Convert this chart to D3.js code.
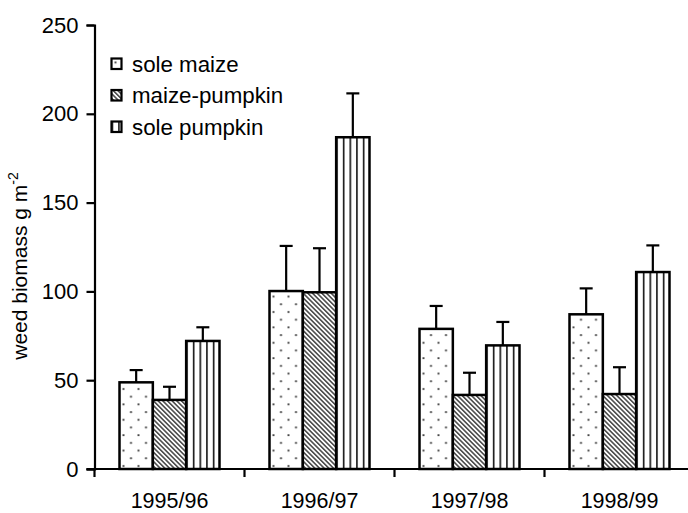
<!DOCTYPE html>
<html>
<head>
<meta charset="utf-8">
<script src="https://cdn.jsdelivr.net/npm/d3@7"></script>
<style>
  body { margin: 0; background: #fff; }
  svg { display: block; font-family: "Liberation Sans", Arial, sans-serif; }
</style>
</head>
<body>
<div id="chart"></div>
<script>
// seasons and series
const seasons = ["1995/96", "1996/97", "1997/98", "1998/99"];
const series = ["sole maize", "maize-pumpkin", "sole pumpkin"];
const soleMaize = [48.8, 100.2, 78.9, 87.1];
const maizePumpkin = [38.9, 99.5, 41.7, 42.2];
const solePumpkin = [72.1, 186.8, 69.6, 110.9];
const soleMaizeErr = [6.9, 25.4, 12.9, 14.6];
const maizePumpkinErr = [7.4, 24.8, 12.5, 15.1];
const solePumpkinErr = [7.7, 24.7, 13.2, 15.0];
const yTicks = [0, 50, 100, 150, 200, 250];

const values = [soleMaize, maizePumpkin, solePumpkin];
const errors = [soleMaizeErr, maizePumpkinErr, solePumpkinErr];
const patternIds = ["dots", "diag", "vert"];

const width = 688, height = 513;
const margin = { top: 25, left: 94.5, bottom: 44 };

const svg = d3.select("#chart").append("svg")
  .attr("width", width)
  .attr("height", height);

// patterns
const defs = svg.append("defs");
const pDots = defs.append("pattern").attr("id", "dots")
  .attr("patternUnits", "userSpaceOnUse").attr("width", 15).attr("height", 15.4);
pDots.append("rect").attr("width", 15).attr("height", 15.4).attr("fill", "#fff");
pDots.append("circle").attr("cx", 4).attr("cy", 4).attr("r", 1).attr("fill", "#333");
pDots.append("circle").attr("cx", 11.5).attr("cy", 11.7).attr("r", 1).attr("fill", "#333");

const pDiag = defs.append("pattern").attr("id", "diag")
  .attr("patternUnits", "userSpaceOnUse").attr("width", 3.3).attr("height", 3.3)
  .attr("patternTransform", "rotate(-45)");
pDiag.append("rect").attr("width", 3.3).attr("height", 3.3).attr("fill", "#fff");
pDiag.append("line").attr("x1", 0.8).attr("x2", 0.8).attr("y1", 0).attr("y2", 3.3)
  .attr("stroke", "#222").attr("stroke-width", 1.3);

const pVert = defs.append("pattern").attr("id", "vert")
  .attr("patternUnits", "userSpaceOnUse").attr("width", 6.66).attr("height", 10);
pVert.append("rect").attr("width", 6.66).attr("height", 10).attr("fill", "#fff");
pVert.append("line").attr("x1", 0).attr("x2", 0).attr("y1", 0).attr("y2", 10)
  .attr("stroke", "#111").attr("stroke-width", 3.2);

// scales
const x = d3.scaleBand()
  .domain(seasons)
  .range([margin.left, margin.left + 600])
  .paddingInner(1 / 3)
  .paddingOuter(1 / 6);

const xs = d3.scaleBand()
  .domain(series)
  .range([0, x.bandwidth()]);

const y = d3.scaleLinear()
  .domain([0, 250])
  .range([height - margin.bottom, margin.top]);

// bars
const groups = svg.append("g").selectAll("g")
  .data(seasons)
  .join("g")
  .attr("transform", d => `translate(${x(d)},0)`);

series.forEach((s, si) => {
  groups.append("g")
    .attr("transform", `translate(${xs(s)},0)`)
    .each(function (season, i) {
      const g = d3.select(this);
      const v = values[si][i];
      const e = errors[si][i];
      const cx = xs.bandwidth() / 2;
      g.append("line")
        .attr("x1", cx).attr("x2", cx)
        .attr("y1", y(v)).attr("y2", y(v + e))
        .attr("stroke", "#000").attr("stroke-width", 2.2);
      g.append("line")
        .attr("x1", cx - 6.5).attr("x2", cx + 6.5)
        .attr("y1", y(v + e)).attr("y2", y(v + e))
        .attr("stroke", "#000").attr("stroke-width", 2.2);
      g.append("rect")
        .attr("x", 0)
        .attr("y", y(v))
        .attr("width", xs.bandwidth())
        .attr("height", y(0) - y(v))
        .attr("fill", `url(#${patternIds[si]})`)
        .attr("stroke", "#000")
        .attr("stroke-width", 2.5);
    });
});

// y axis
const yAxis = svg.append("g")
  .attr("transform", `translate(${margin.left},0)`)
  .call(d3.axisLeft(y).tickValues(yTicks).tickSize(8).tickPadding(8));
yAxis.select(".domain").attr("stroke-width", 2.2);
yAxis.selectAll(".tick line").attr("stroke-width", 2.2);
yAxis.selectAll(".tick text")
  .attr("font-size", 22)
  .attr("font-family", "Liberation Sans, Arial, sans-serif")
  .attr("fill", "#000");

// x axis: baseline with ticks at group boundaries
const xAxis = svg.append("g");
xAxis.append("line")
  .attr("x1", margin.left - 8).attr("x2", width)
  .attr("y1", y(0)).attr("y2", y(0))
  .attr("stroke", "#000").attr("stroke-width", 2.2);
xAxis.selectAll(".xtick")
  .data(seasons)
  .join("line")
  .attr("class", "xtick")
  .attr("x1", d => x(d) - x.step() * x.paddingInner() / 2)
  .attr("x2", d => x(d) - x.step() * x.paddingInner() / 2)
  .attr("y1", y(0)).attr("y2", y(0) + 8)
  .attr("stroke", "#000").attr("stroke-width", 2.2);
xAxis.selectAll(".xlabel")
  .data(seasons)
  .join("text")
  .attr("class", "xlabel")
  .attr("x", d => x(d) + x.bandwidth() / 2)
  .attr("y", y(0) + 39)
  .attr("text-anchor", "middle")
  .attr("font-size", 21.5)
  .text(d => d);

// y label
const yl = svg.append("text")
  .attr("transform", `translate(27,${(y(0) + y(250)) / 2 + 19}) rotate(-90)`)
  .attr("text-anchor", "middle")
  .attr("font-size", 21);
yl.append("tspan").text("weed biomass g m");
yl.append("tspan").attr("dy", -9).attr("font-size", 14).text("-2");

// legend
const legend = svg.append("g").attr("transform", "translate(111.5,58.5)");
const li = legend.selectAll("g")
  .data(series)
  .join("g")
  .attr("transform", (d, i) => `translate(0,${i * 31.5})`);
li.append("rect")
  .attr("width", 10).attr("height", 10.5)
  .attr("fill", (d, i) => `url(#${patternIds[i]})`)
  .attr("stroke", "#000").attr("stroke-width", 2.2);
li.append("text")
  .attr("x", 20.5)
  .attr("y", 13)
  .attr("font-size", 22.3)
  .text(d => d);
</script>
</body>
</html>
